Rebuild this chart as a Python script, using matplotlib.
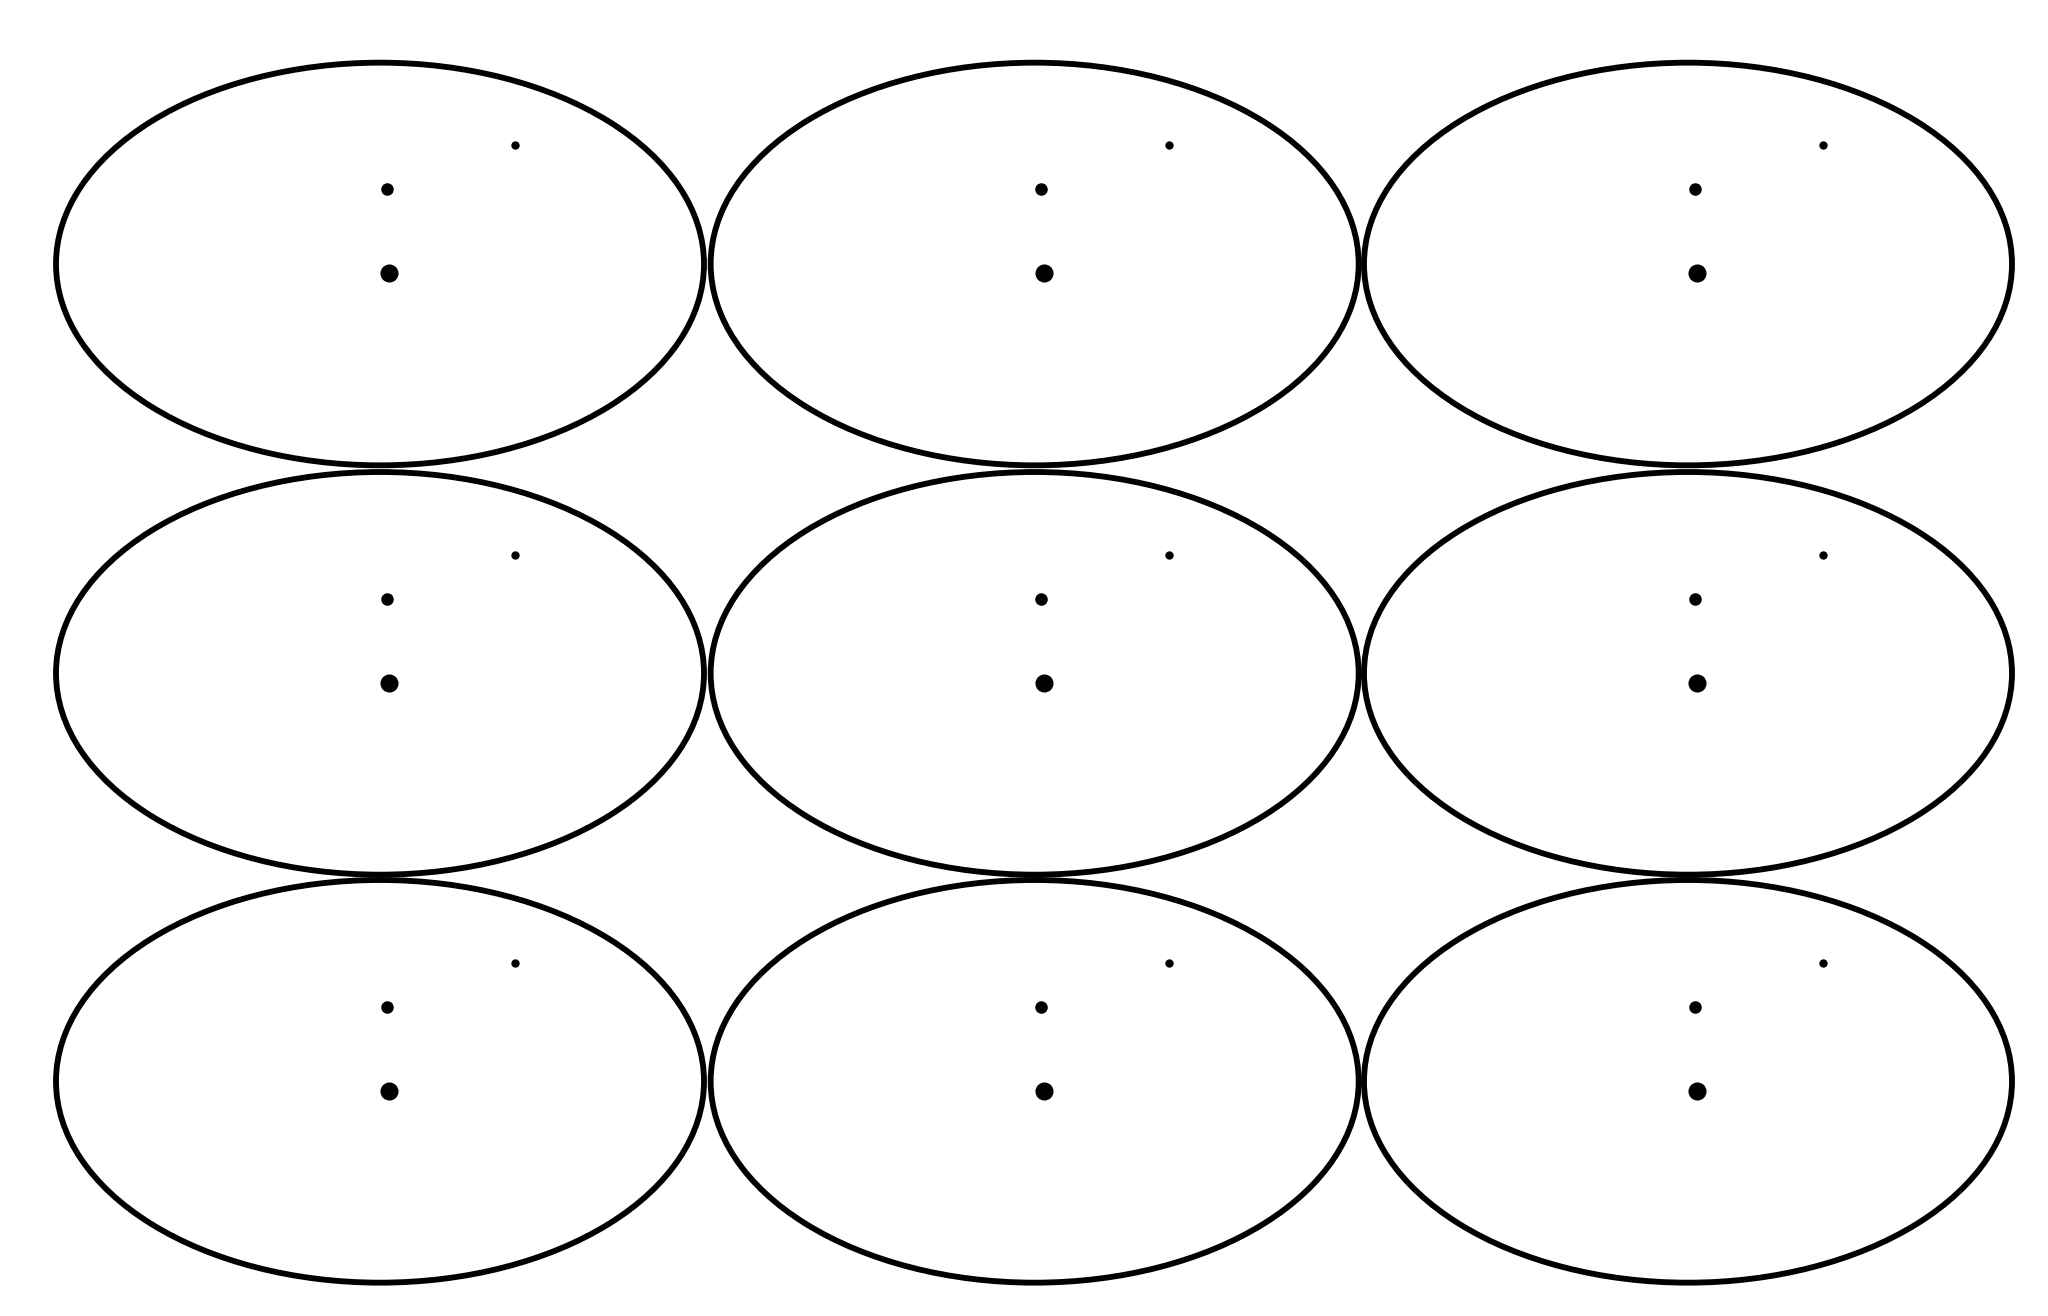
import matplotlib
matplotlib.use("Agg")
import matplotlib.pyplot as plt
from matplotlib.patches import Ellipse

col_centers = [285, 776, 1266]
row_centers = [198, 505, 811]
ell_width = 486
ell_height = 302
# dot offsets relative to ellipse center and marker sizes (pt)
dot_dx = [7, 5, 101]
dot_dy = [7, -56, -89]
dot_sizes = [12, 8, 5]

fig = plt.figure(figsize=(20.48, 13.16), dpi=100)
ax = fig.add_axes([0, 0, 1, 1])
ax.set_xlim(0, 1536)
ax.set_ylim(987, 0)
ax.axis("off")

for cy in row_centers:
    for cx in col_centers:
        ax.add_patch(Ellipse((cx, cy), ell_width, ell_height, fill=False,
                             edgecolor="black", linewidth=4.2))
        for dx, dy, s in zip(dot_dx, dot_dy, dot_sizes):
            ax.plot(cx + dx, cy + dy, "o", color="black", markersize=s)

fig.savefig("out.png", dpi=100, facecolor="white")
